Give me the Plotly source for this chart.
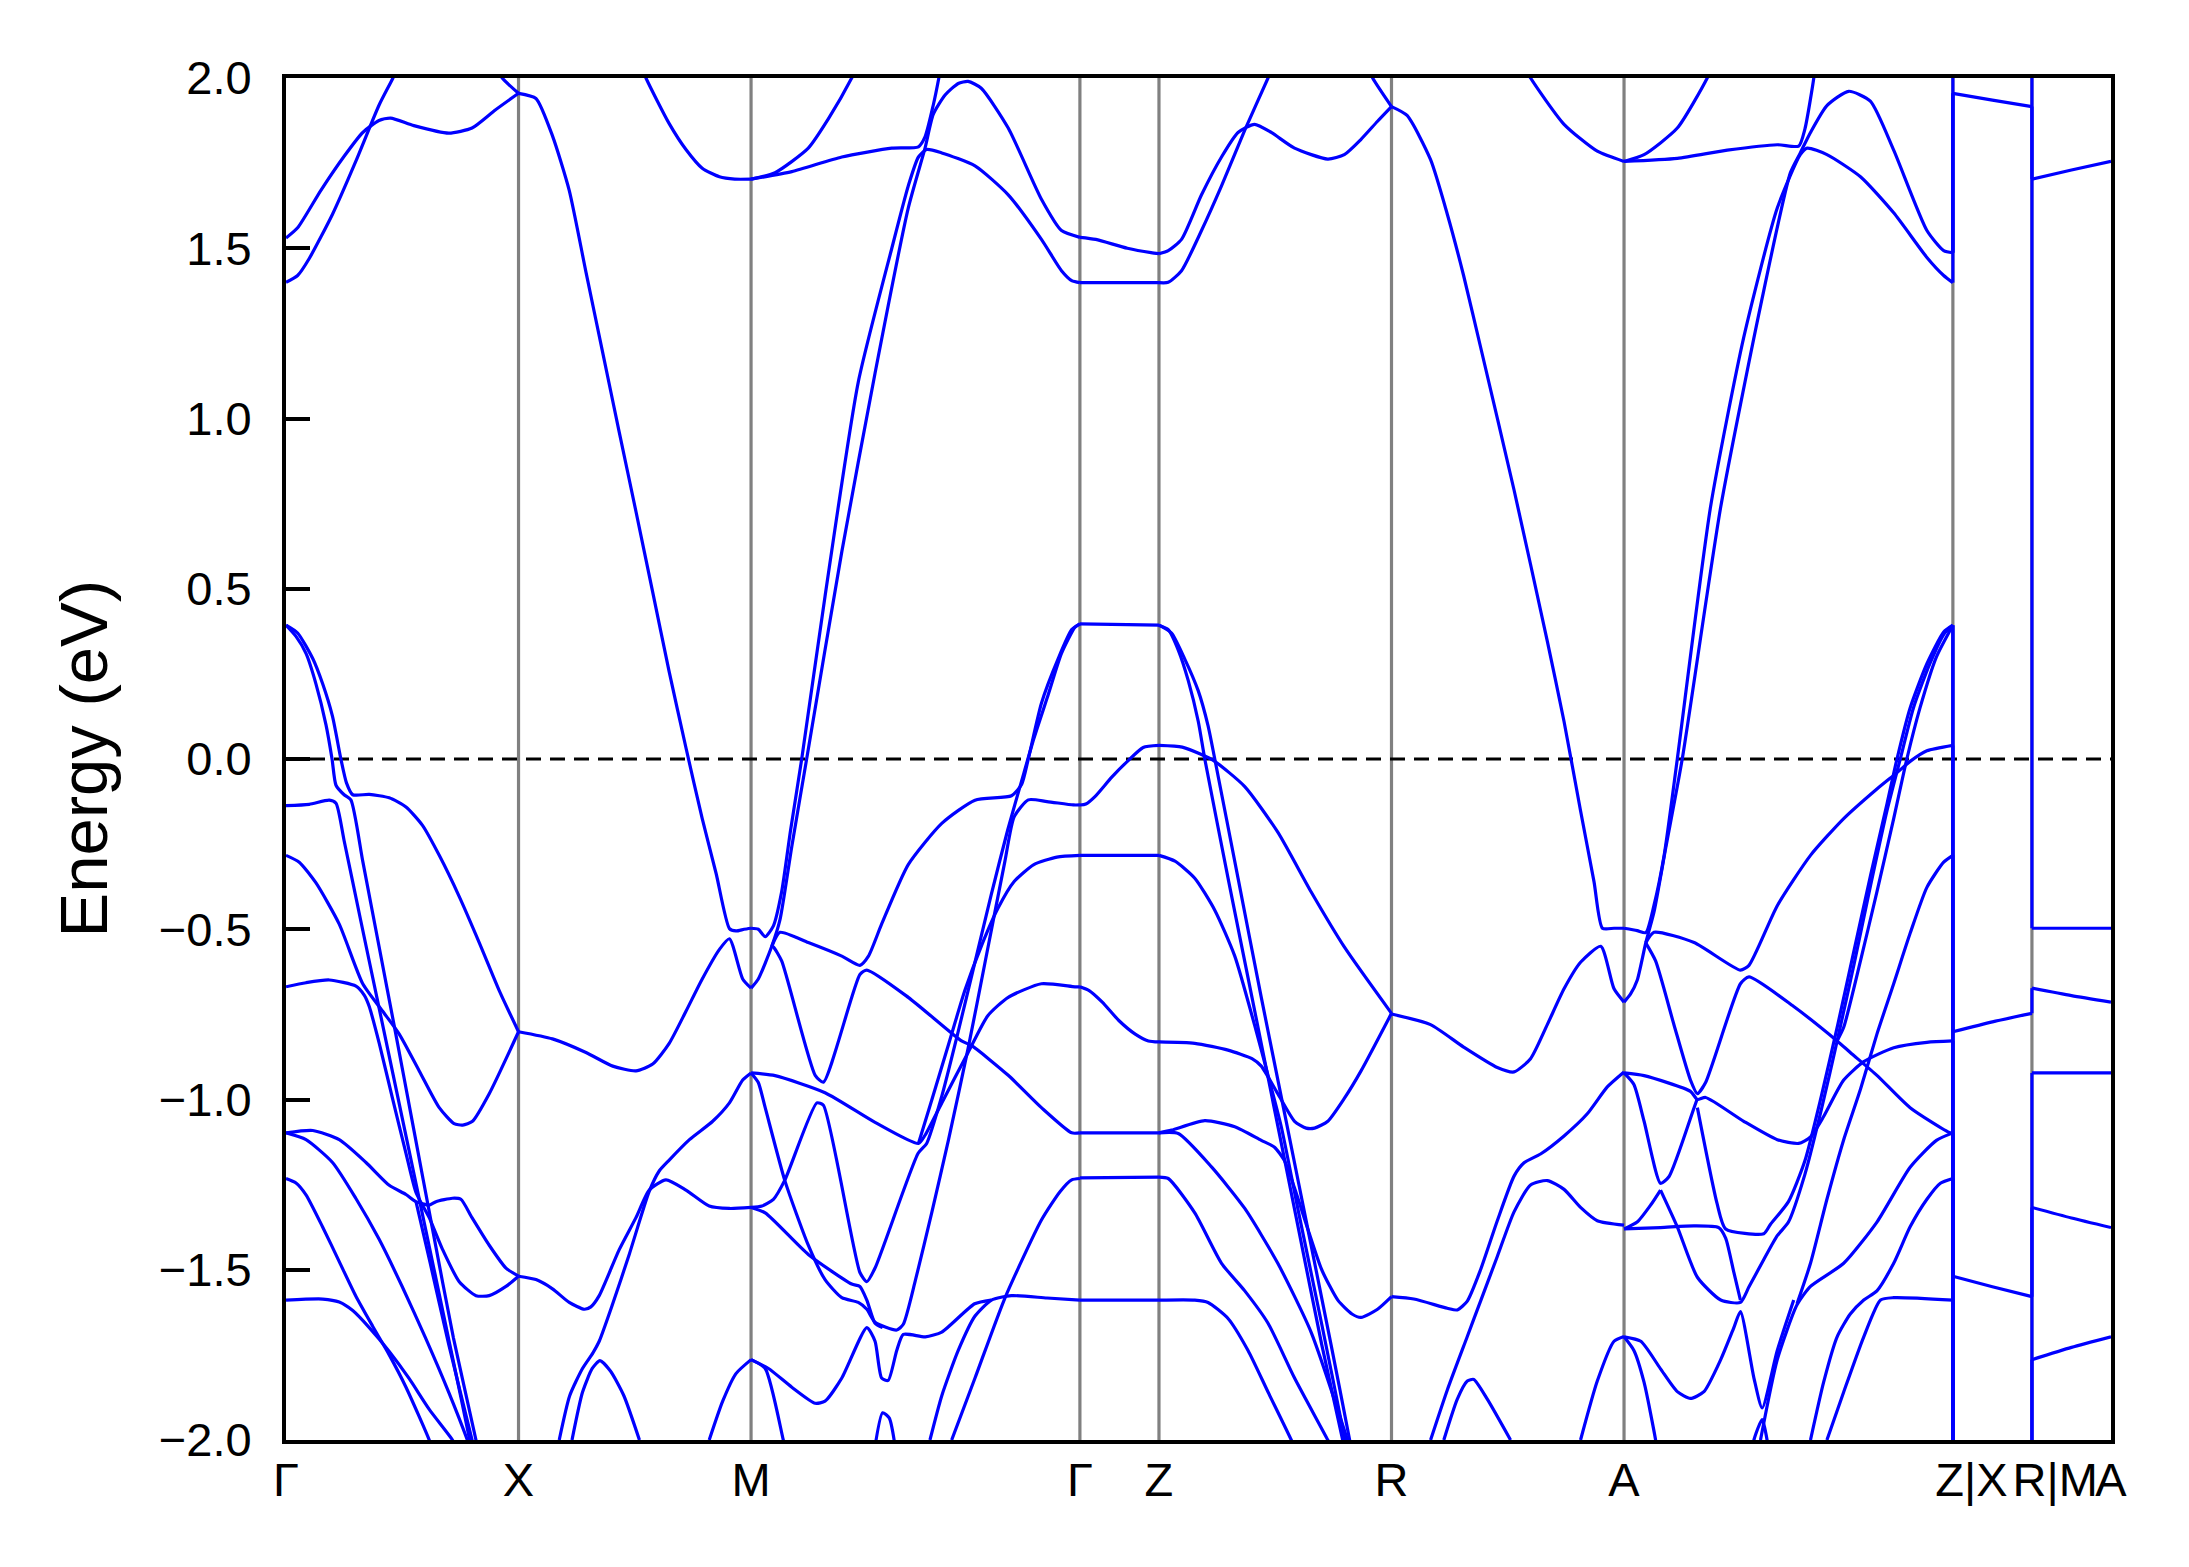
import plotly.graph_objects as go

# ---------------- k-path ----------------
SEG_LENGTHS = [1.0, 1.0, 1.4142, 0.34, 1.0, 1.0, 1.4142, 0.34, 0.34]   # Γ-X, X-M, M-Γ, Γ-Z, Z-R, R-A, A-Z, X-R, M-A
TICK_LABELS = ["Γ", "X", "M", "Γ", "Z", "R", "A", "Z|X", "R|M", "A"]
Y_TICKS = [-2.0, -1.5, -1.0, -0.5, 0.0, 0.5, 1.0, 1.5, 2.0]
Y_TICK_TEXT = ["−2.0", "−1.5", "−1.0", "−0.5", "0.0", "0.5", "1.0", "1.5", "2.0"]

# ---------------- bands: [t along segment (0..1), E (eV)] ----------------
BANDS_GX = [
    [[0, 1.53], [0.05, 1.56], [0.15, 1.67], [0.25, 1.77], [0.33, 1.84], [0.40, 1.875], [0.45, 1.882], [0.55, 1.86], [0.70, 1.838], [0.80, 1.853], [0.90, 1.906], [1.0, 1.955]],
    [[0, 1.40], [0.05, 1.42], [0.10, 1.47], [0.20, 1.60], [0.30, 1.755], [0.40, 1.92], [0.46, 2.0], [0.50, 2.06]],
    [[0.88, 2.06], [0.93, 2.0], [1.0, 1.955]],
    [[0, 0.393], [0.043, 0.36], [0.086, 0.31], [0.129, 0.22], [0.172, 0.10], [0.198, 0.0], [0.215, -0.077], [0.25, -0.105], [0.279, -0.12], [0.33, -0.30], [0.40, -0.55], [0.47, -0.80], [0.55, -1.09], [0.63, -1.38], [0.72, -1.70], [0.817, -2.0], [0.83, -2.05]],
    [[0, 0.393], [0.05, 0.37], [0.115, 0.295], [0.158, 0.22], [0.20, 0.125], [0.236, 0.0], [0.26, -0.07], [0.287, -0.105], [0.358, -0.104], [0.444, -0.114], [0.516, -0.141], [0.587, -0.195], [0.659, -0.283], [0.745, -0.404], [0.831, -0.539], [0.917, -0.68], [1.0, -0.801]],
    [[0, -0.137], [0.10, -0.133], [0.186, -0.121], [0.215, -0.13], [0.25, -0.24], [0.32, -0.47], [0.40, -0.73], [0.48, -0.99], [0.56, -1.25], [0.64, -1.51], [0.72, -1.77], [0.79, -2.0], [0.80, -2.04]],
    [[0, -0.283], [0.057, -0.303], [0.129, -0.364], [0.229, -0.485], [0.33, -0.66], [0.415, -0.74], [0.487, -0.808], [0.573, -0.916], [0.659, -1.024], [0.723, -1.071], [0.76, -1.075], [0.802, -1.064], [0.874, -0.983], [1.0, -0.801]],
    [[0, -0.669], [0.086, -0.657], [0.186, -0.649], [0.301, -0.667], [0.337, -0.694], [0.358, -0.727], [0.401, -0.835], [0.458, -0.997], [0.516, -1.158], [0.559, -1.273], [0.616, -1.347], [0.673, -1.44], [0.745, -1.535], [0.817, -1.576], [0.874, -1.576], [0.946, -1.549], [1.0, -1.519]],
    [[0, -1.098], [0.115, -1.091], [0.229, -1.118], [0.344, -1.185], [0.444, -1.252], [0.516, -1.279], [0.559, -1.30], [0.616, -1.31], [0.645, -1.30], [0.716, -1.29], [0.752, -1.293], [0.80, -1.347], [0.874, -1.428], [0.946, -1.495], [1.0, -1.519]],
    [[0.559, -1.30], [0.62, -1.48], [0.70, -1.72], [0.80, -2.0], [0.82, -2.06]],
    [[0, -1.098], [0.086, -1.118], [0.20, -1.185], [0.30, -1.29], [0.40, -1.41], [0.50, -1.55], [0.60, -1.70], [0.70, -1.86], [0.78, -2.0], [0.80, -2.04]],
    [[0, -1.232], [0.043, -1.245], [0.086, -1.28], [0.158, -1.375], [0.229, -1.476], [0.30, -1.577], [0.372, -1.665], [0.444, -1.75], [0.516, -1.845], [0.616, -2.0], [0.63, -2.03]],
    [[0, -1.589], [0.158, -1.586], [0.229, -1.595], [0.287, -1.62], [0.358, -1.67], [0.444, -1.74], [0.53, -1.82], [0.616, -1.91], [0.716, -2.0], [0.73, -2.02]],
]

BANDS_XM = [
    [[0, 1.955], [0.075, 1.94], [0.146, 1.83], [0.218, 1.67], [0.29, 1.43], [0.36, 1.20], [0.433, 0.96], [0.505, 0.727], [0.577, 0.49], [0.648, 0.256], [0.72, 0.033], [0.79, -0.175], [0.85, -0.337], [0.907, -0.498], [0.935, -0.505], [0.97, -0.50], [1.0, -0.497]],
    [[0.50, 2.08], [0.548, 2.0], [0.648, 1.866], [0.72, 1.79], [0.79, 1.735], [0.864, 1.71], [0.93, 1.703], [1.0, 1.703]],
    [[0, -0.801], [0.146, -0.822], [0.29, -0.862], [0.405, -0.902], [0.505, -0.916], [0.577, -0.896], [0.648, -0.835], [0.72, -0.741], [0.79, -0.646], [0.864, -0.559], [0.907, -0.528], [0.964, -0.646], [1.0, -0.673]],
    [[0, -1.519], [0.075, -1.529], [0.146, -1.556], [0.218, -1.596], [0.283, -1.616], [0.311, -1.609], [0.347, -1.576], [0.433, -1.441], [0.505, -1.347], [0.562, -1.266], [0.634, -1.236], [0.72, -1.266], [0.82, -1.313], [0.907, -1.32], [1.0, -1.317]],
    [[0.175, -2.0], [0.22, -1.87], [0.275, -1.79], [0.32, -1.744], [0.347, -1.71], [0.405, -1.60], [0.476, -1.455], [0.562, -1.27], [0.605, -1.21], [0.648, -1.178], [0.735, -1.118], [0.835, -1.064], [0.907, -1.01], [0.964, -0.943], [1.0, -0.922]],
    [[0.23, -2.0], [0.275, -1.86], [0.317, -1.79], [0.35, -1.767], [0.396, -1.798], [0.453, -1.87], [0.52, -2.0]],
    [[0.82, -2.0], [0.878, -1.886], [0.935, -1.805], [1.0, -1.764]],
]

BANDS_MG = [
    [[0, 1.703], [0.073, 1.722], [0.174, 1.794], [0.235, 1.88], [0.306, 2.0], [0.33, 2.05]],
    [[0, 1.703], [0.124, 1.725], [0.276, 1.768], [0.428, 1.794], [0.509, 1.798], [0.529, 1.827], [0.554, 1.92], [0.571, 2.0], [0.58, 2.05]],
    [[0, -0.497], [0.022, -0.50], [0.043, -0.522], [0.068, -0.49], [0.093, -0.39], [0.12, -0.21], [0.154, 0.0], [0.225, 0.478], [0.326, 1.107], [0.428, 1.50], [0.478, 1.683], [0.509, 1.768], [0.534, 1.79], [0.58, 1.78], [0.681, 1.742], [0.782, 1.657], [0.883, 1.526], [0.944, 1.434], [0.975, 1.405], [1.0, 1.399]],
    [[0, -0.673], [0.022, -0.646], [0.063, -0.55], [0.088, -0.472], [0.124, -0.256], [0.169, 0.0], [0.276, 0.609], [0.377, 1.133], [0.478, 1.618], [0.529, 1.794], [0.554, 1.893], [0.59, 1.95], [0.63, 1.984], [0.66, 1.99], [0.70, 1.97], [0.782, 1.853], [0.883, 1.644], [0.944, 1.552], [1.0, 1.532]],
    [[0.063, -0.55], [0.088, -0.509], [0.174, -0.539], [0.276, -0.579], [0.331, -0.606], [0.357, -0.579], [0.397, -0.485], [0.478, -0.31], [0.58, -0.189], [0.681, -0.121], [0.792, -0.108], [0.823, -0.074], [0.843, 0.0], [0.883, 0.164], [0.934, 0.295], [0.975, 0.38], [1.0, 0.397]],
    [[0, -0.922], [0.022, -0.95], [0.043, -1.024], [0.103, -1.239], [0.174, -1.428], [0.225, -1.529], [0.276, -1.582], [0.326, -1.596], [0.352, -1.616], [0.377, -1.654], [0.443, -1.677], [0.463, -1.66], [0.50, -1.53], [0.55, -1.33], [0.60, -1.12], [0.66, -0.85], [0.711, -0.60], [0.772, -0.30], [0.80, -0.17], [0.843, -0.12], [0.90, -0.125], [0.98, -0.135], [1.0, -0.135]],
    [[0, -0.922], [0.073, -0.93], [0.225, -0.98], [0.377, -1.067], [0.509, -1.129], [0.529, -1.105], [0.58, -1.01], [0.66, -0.862], [0.72, -0.754], [0.782, -0.70], [0.883, -0.66], [0.985, -0.669], [1.0, -0.669]],
    [[0.509, -1.129], [0.55, -1.0], [0.60, -0.84], [0.65, -0.68], [0.70, -0.55], [0.75, -0.44], [0.80, -0.36], [0.86, -0.31], [0.93, -0.288], [1.0, -0.283]],
    [[0.063, -0.55], [0.068, -0.552], [0.093, -0.593], [0.195, -0.929], [0.22, -0.949], [0.331, -0.633], [0.352, -0.62], [0.478, -0.70], [0.64, -0.828], [0.671, -0.842], [0.782, -0.929], [0.883, -1.024], [0.975, -1.098], [1.0, -1.098]],
    [[0, -1.317], [0.033, -1.313], [0.068, -1.293], [0.103, -1.236], [0.20, -1.01], [0.22, -1.017], [0.331, -1.508], [0.352, -1.535], [0.377, -1.495], [0.508, -1.158], [0.534, -1.129], [0.58, -0.99], [0.63, -0.80], [0.68, -0.60], [0.73, -0.40], [0.78, -0.21], [0.83, -0.04], [0.86, 0.06], [0.904, 0.19], [0.944, 0.31], [0.985, 0.387], [1.0, 0.397]],
    [[0, -1.317], [0.043, -1.333], [0.174, -1.455], [0.306, -1.542], [0.331, -1.549], [0.352, -1.589], [0.377, -1.657], [0.40, -1.67]],
    [[0, -1.764], [0.043, -1.79], [0.098, -2.0], [0.11, -2.05]],
    [[0, -1.764], [0.053, -1.79], [0.124, -1.845], [0.195, -1.892], [0.225, -1.886], [0.276, -1.818], [0.352, -1.67], [0.377, -1.71], [0.397, -1.818], [0.417, -1.825], [0.443, -1.737], [0.463, -1.69], [0.53, -1.697], [0.58, -1.683], [0.68, -1.60], [0.73, -1.589]],
    [[0.372, -2.05], [0.40, -1.92], [0.42, -1.935], [0.435, -2.0], [0.44, -2.05]],
    [[0.544, -2.0], [0.58, -1.87], [0.63, -1.737], [0.681, -1.636], [0.731, -1.589], [0.792, -1.576], [0.90, -1.583], [1.0, -1.589]],
    [[0.61, -2.0], [0.681, -1.818], [0.772, -1.583], [0.883, -1.354], [0.94, -1.27], [0.975, -1.236], [1.0, -1.232]],
]

BANDS_GZ = [
    [[0, 1.532], [0.2, 1.526], [0.6, 1.50], [0.9, 1.487], [1.0, 1.484]],
    [[0, 1.399], [1.0, 1.399]],
    [[0, 0.397], [1.0, 0.393]],
    [[0, -0.135], [0.075, -0.132], [0.2, -0.108], [0.4, -0.054], [0.6, -0.007], [0.8, 0.034], [1.0, 0.04]],
    [[0, -0.283], [1.0, -0.283]],
    [[0, -0.669], [0.117, -0.68], [0.283, -0.714], [0.492, -0.768], [0.70, -0.808], [0.867, -0.828], [1.0, -0.831]],
    [[0, -1.098], [1.0, -1.098]],
    [[0, -1.23], [1.0, -1.228]],
    [[0, -1.589], [1.0, -1.589]],
]

BANDS_ZR = [
    [[0, 1.484], [0.04, 1.493], [0.097, 1.526], [0.183, 1.657], [0.269, 1.768], [0.34, 1.84], [0.411, 1.864], [0.483, 1.84], [0.583, 1.794], [0.726, 1.762], [0.797, 1.775], [0.869, 1.82], [0.94, 1.873], [1.0, 1.916]],
    [[0, 1.399], [0.04, 1.40], [0.097, 1.434], [0.183, 1.552], [0.269, 1.683], [0.369, 1.847], [0.469, 2.0], [0.50, 2.05]],
    [[0.88, 2.06], [0.919, 2.0], [1.0, 1.916]],
    [[0, 0.393], [0.04, 0.38], [0.083, 0.32], [0.126, 0.23], [0.169, 0.11], [0.197, 0.0], [0.30, -0.36], [0.40, -0.70], [0.50, -1.04], [0.60, -1.38], [0.70, -1.72], [0.79, -2.0], [0.80, -2.04]],
    [[0, 0.393], [0.054, 0.37], [0.11, 0.295], [0.169, 0.20], [0.211, 0.098], [0.24, 0.0], [0.34, -0.35], [0.44, -0.70], [0.54, -1.04], [0.64, -1.38], [0.74, -1.72], [0.82, -2.0], [0.83, -2.04]],
    [[0, 0.04], [0.1, 0.035], [0.183, 0.013], [0.24, -0.007], [0.369, -0.081], [0.511, -0.215], [0.654, -0.39], [0.797, -0.552], [1.0, -0.747]],
    [[0, -0.283], [0.069, -0.30], [0.154, -0.35], [0.24, -0.444], [0.326, -0.579], [0.411, -0.781], [0.469, -0.929], [0.526, -1.08], [0.60, -1.33], [0.70, -1.66], [0.80, -2.0], [0.81, -2.04]],
    [[0, -0.831], [0.154, -0.835], [0.297, -0.855], [0.40, -0.88], [0.44, -0.902], [0.511, -0.983], [0.583, -1.064], [0.633, -1.084], [0.669, -1.084], [0.726, -1.064], [0.797, -0.997], [0.869, -0.916], [1.0, -0.747]],
    [[0, -1.098], [0.054, -1.09], [0.197, -1.062], [0.326, -1.08], [0.44, -1.12], [0.497, -1.14], [0.54, -1.18], [0.583, -1.26], [0.64, -1.38], [0.70, -1.50], [0.77, -1.59], [0.83, -1.63], [0.869, -1.64], [0.94, -1.616], [1.0, -1.579]],
    [[0, -1.098], [0.083, -1.10], [0.226, -1.198], [0.369, -1.32], [0.511, -1.481], [0.654, -1.683], [0.811, -2.0], [0.82, -2.02]],
    [[0, -1.228], [0.04, -1.232], [0.154, -1.333], [0.269, -1.481], [0.369, -1.562], [0.469, -1.657], [0.583, -1.818], [0.726, -2.0], [0.74, -2.02]],
    [[0, -1.589], [0.154, -1.589], [0.211, -1.596], [0.297, -1.643], [0.383, -1.737], [0.469, -1.859], [0.569, -2.0], [0.58, -2.02]],
]

BANDS_RA = [
    [[0, 1.916], [0.067, 1.89], [0.168, 1.76], [0.24, 1.60], [0.31, 1.42], [0.383, 1.21], [0.527, 0.79], [0.67, 0.346], [0.742, 0.11], [0.813, -0.152], [0.871, -0.361], [0.907, -0.497], [0.957, -0.497], [1.0, -0.497]],
    [[0.55, 2.06], [0.598, 2.0], [0.742, 1.864], [0.885, 1.785], [1.0, 1.755]],
    [[0, -0.749], [0.168, -0.78], [0.31, -0.846], [0.455, -0.906], [0.527, -0.919], [0.598, -0.88], [0.67, -0.78], [0.742, -0.675], [0.813, -0.597], [0.90, -0.55], [0.957, -0.675], [1.0, -0.714]],
    [[0, -1.579], [0.096, -1.586], [0.24, -1.613], [0.283, -1.618], [0.326, -1.592], [0.383, -1.50], [0.455, -1.356], [0.527, -1.225], [0.57, -1.186], [0.641, -1.16], [0.742, -1.107], [0.842, -1.042], [0.928, -0.963], [1.0, -0.919]],
    [[0.168, -2.0], [0.24, -1.853], [0.326, -1.696], [0.383, -1.592], [0.455, -1.461], [0.527, -1.33], [0.598, -1.251], [0.67, -1.238], [0.742, -1.264], [0.813, -1.317], [0.885, -1.356], [1.0, -1.369]],
    [[0.225, -2.0], [0.283, -1.88], [0.326, -1.827], [0.354, -1.822], [0.412, -1.88], [0.512, -2.0]],
    [[0.813, -2.0], [0.885, -1.827], [0.957, -1.71], [1.0, -1.696]],
]

BANDS_AZ = [
    [[0, 1.755], [0.061, 1.775], [0.162, 1.853], [0.253, 2.0], [0.27, 2.04]],
    [[0, 1.755], [0.162, 1.764], [0.314, 1.788], [0.466, 1.804], [0.531, 1.80], [0.55, 1.85], [0.577, 2.0], [0.58, 2.03]],
    [[0, -0.497], [0.04, -0.504], [0.066, -0.51], [0.091, -0.43], [0.122, -0.283], [0.162, 0.0], [0.263, 0.74], [0.364, 1.238], [0.466, 1.618], [0.536, 1.775], [0.557, 1.794], [0.617, 1.775], [0.719, 1.71], [0.82, 1.604], [0.921, 1.473], [0.972, 1.42], [1.0, 1.399]],
    [[0, -0.714], [0.02, -0.69], [0.04, -0.65], [0.066, -0.54], [0.091, -0.45], [0.127, -0.26], [0.177, 0.0], [0.294, 0.74], [0.415, 1.33], [0.506, 1.722], [0.536, 1.78], [0.567, 1.84], [0.617, 1.919], [0.683, 1.961], [0.749, 1.932], [0.82, 1.788], [0.921, 1.552], [0.972, 1.493], [1.0, 1.487]],
    [[0.066, -0.54], [0.091, -0.509], [0.213, -0.539], [0.354, -0.62], [0.38, -0.606], [0.466, -0.431], [0.567, -0.283], [0.668, -0.175], [0.769, -0.088], [0.83, -0.04], [0.87, -0.007], [0.921, 0.024], [1.0, 0.04]],
    [[0.066, -0.54], [0.096, -0.593], [0.152, -0.781], [0.202, -0.943], [0.223, -0.983], [0.248, -0.95], [0.354, -0.66], [0.38, -0.64], [0.516, -0.727], [0.648, -0.828], [0.688, -0.862], [0.769, -0.929], [0.87, -1.024], [0.992, -1.098], [1.0, -1.098]],
    [[0, -0.922], [0.061, -0.93], [0.202, -0.976], [0.223, -1.0], [0.248, -0.994], [0.364, -1.064], [0.466, -1.118], [0.531, -1.129], [0.567, -1.11], [0.607, -1.05], [0.668, -0.943], [0.729, -0.889], [0.82, -0.848], [0.921, -0.832], [1.0, -0.828]],
    [[0, -0.922], [0.03, -0.956], [0.061, -1.064], [0.111, -1.246], [0.137, -1.226], [0.213, -1.024], [0.223, -0.997]],
    [[0.111, -1.266], [0.162, -1.374], [0.223, -1.522], [0.294, -1.589], [0.354, -1.596], [0.38, -1.55], [0.425, -1.47], [0.466, -1.40], [0.50, -1.36], [0.55, -1.22], [0.60, -1.03], [0.65, -0.82], [0.70, -0.60], [0.75, -0.37], [0.80, -0.15], [0.84, 0.0], [0.88, 0.15], [0.93, 0.28], [0.975, 0.37], [1.0, 0.393]],
    [[0, -1.38], [0.111, -1.376], [0.213, -1.371], [0.288, -1.376], [0.309, -1.407], [0.334, -1.508], [0.354, -1.589]],
    [[0, -1.38], [0.04, -1.36], [0.081, -1.31], [0.111, -1.266]],
    [[0.223, -1.024], [0.283, -1.306], [0.309, -1.38], [0.425, -1.394], [0.445, -1.367], [0.50, -1.30], [0.55, -1.18], [0.60, -0.99], [0.65, -0.78], [0.70, -0.56], [0.75, -0.34], [0.80, -0.13], [0.83, 0.0], [0.87, 0.15], [0.921, 0.28], [0.972, 0.373], [1.0, 0.393]],
    [[0.648, -0.828], [0.668, -0.788], [0.719, -0.593], [0.769, -0.39], [0.82, -0.175], [0.86, 0.0], [0.90, 0.15], [0.95, 0.30], [1.0, 0.393]],
    [[0.526, -1.60], [0.567, -1.481], [0.617, -1.293], [0.668, -1.118], [0.719, -0.97], [0.769, -0.808], [0.82, -0.66], [0.87, -0.512], [0.921, -0.377], [0.972, -0.303], [1.0, -0.283]],
    [[0.415, -2.0], [0.466, -1.764], [0.526, -1.603], [0.567, -1.549], [0.668, -1.481], [0.769, -1.36], [0.87, -1.199], [0.95, -1.12], [1.0, -1.098]],
    [[0.567, -2.0], [0.607, -1.83], [0.648, -1.697], [0.688, -1.63], [0.729, -1.589], [0.769, -1.562], [0.82, -1.481], [0.87, -1.374], [0.921, -1.293], [0.962, -1.246], [1.0, -1.232]],
    [[0.617, -2.0], [0.668, -1.859], [0.729, -1.697], [0.78, -1.589], [0.82, -1.582], [1.0, -1.589]],
    [[0, -1.697], [0.051, -1.71], [0.111, -1.791], [0.162, -1.858], [0.202, -1.878], [0.243, -1.858], [0.294, -1.764], [0.334, -1.67], [0.354, -1.623], [0.395, -1.818], [0.42, -1.906], [0.466, -1.737], [0.516, -1.589]],
    [[0.39, -2.05], [0.395, -2.0], [0.42, -1.94], [0.435, -2.0], [0.44, -2.05]],
    [[0, -1.697], [0.03, -1.737], [0.061, -1.831], [0.096, -2.0], [0.10, -2.03]],
]

BANDS_XR = [
    [[0, 1.955], [0.5, 1.935], [1.0, 1.916]],
    [[0, -0.801], [0.5, -0.772], [1.0, -0.747]],
    [[0, -1.519], [0.5, -1.55], [1.0, -1.579]],
]

BANDS_MA = [
    [[0, 1.703], [0.5, 1.73], [1.0, 1.755]],
    [[0, -0.497], [1.0, -0.497]],
    [[0, -0.673], [0.5, -0.695], [1.0, -0.714]],
    [[0, -0.922], [1.0, -0.922]],
    [[0, -1.317], [0.5, -1.348], [1.0, -1.376]],
    [[0, -1.764], [0.5, -1.728], [1.0, -1.697]],
]

SEGMENT_BANDS = [BANDS_GX, BANDS_XM, BANDS_MG, BANDS_GZ, BANDS_ZR, BANDS_RA, BANDS_AZ, BANDS_XR, BANDS_MA]

# band connections across the path breaks (energy before break, energy after break)
JUMPS_ZX = [[0.393, -1.519], [0.393, -0.801], [1.399, 1.955], [1.487, 1.955], [0.04, -2.1], [-0.283, -2.1], [-0.828, -2.1], [-1.098, -2.1], [-1.232, -2.1], [-1.589, -2.1], [2.1, 1.487]]
JUMPS_RM = [[-1.579, -0.922], [-0.747, -0.673], [1.916, -0.497], [2.1, 1.703], [-2.1, -1.317], [-2.1, -1.764]]

# ---------------- build figure ----------------
starts = [0.0]
for L in SEG_LENGTHS:
    starts.append(starts[-1] + L)
tick_pos = starts[:]           # 10 high-symmetry positions
k_end = starts[-1]
# the combined break labels are printed slightly right of their break lines in the original
label_pos = tick_pos[:]
label_pos[7] += 0.08
label_pos[8] += 0.10

BLUE = "#0000ff"
LW = 3.2
fig = go.Figure()

for seg_i, bands in enumerate(SEGMENT_BANDS):
    k0, L = starts[seg_i], SEG_LENGTHS[seg_i]
    for band in bands:
        fig.add_trace(go.Scatter(
            x=[k0 + p[0] * L for p in band], y=[p[1] for p in band],
            mode="lines", line=dict(color=BLUE, width=LW, shape="spline", smoothing=0.6),
            hoverinfo="skip", showlegend=False))

for k_break, pairs in [(starts[7], JUMPS_ZX), (starts[8], JUMPS_RM)]:
    for a, b in pairs:
        fig.add_trace(go.Scatter(x=[k_break, k_break], y=[a, b], mode="lines",
                                 line=dict(color=BLUE, width=LW), hoverinfo="skip", showlegend=False))

shapes = []
for kp in tick_pos[1:-1]:
    shapes.append(dict(type="line", xref="x", yref="paper", x0=kp, x1=kp, y0=0, y1=1,
                       line=dict(color="#808080", width=3.2), layer="below"))
shapes.append(dict(type="line", xref="paper", yref="y", x0=0, x1=1, y0=0, y1=0,
                   line=dict(color="black", width=3.2, dash="15px,9px"), layer="below"))

FONT = "Liberation Sans, Arial, sans-serif"
PLOT_W = 1825
# the page body has a small default margin, so the figure is sized/offset to keep the plot area in place
fig.update_layout(
    width=2181, height=1559,
    margin=dict(l=278, r=2181 - 278 - PLOT_W, t=70, b=127, autoexpand=False),
    paper_bgcolor="white", plot_bgcolor="white",
    shapes=shapes,
    font=dict(family=FONT, color="black", size=47),
    xaxis=dict(range=[0, k_end], tickvals=label_pos, ticktext=TICK_LABELS, tickangle=0,
               automargin=False,
               showgrid=False, zeroline=False, ticks="", showline=True, mirror=True,
               linecolor="black", linewidth=4, tickfont=dict(size=47, family=FONT),
               ticklabelstandoff=-4),
    yaxis=dict(range=[-2, 2], tickvals=Y_TICKS, ticktext=Y_TICK_TEXT, automargin=False,
               showgrid=False, zeroline=False, ticks="inside", ticklen=24, tickwidth=3.5,
               tickcolor="black", showline=True, mirror=True, linecolor="black", linewidth=4,
               tickfont=dict(size=47, family=FONT), ticklabelstandoff=21),
    annotations=[dict(text="Energy (eV)", textangle=-90, xref="paper", yref="paper",
                      x=(74.5 - 278) / PLOT_W, y=0.5, xanchor="center", yanchor="middle",
                      showarrow=False, font=dict(size=67, family=FONT, color="black"))],
)

fig.write_html("out.html")
